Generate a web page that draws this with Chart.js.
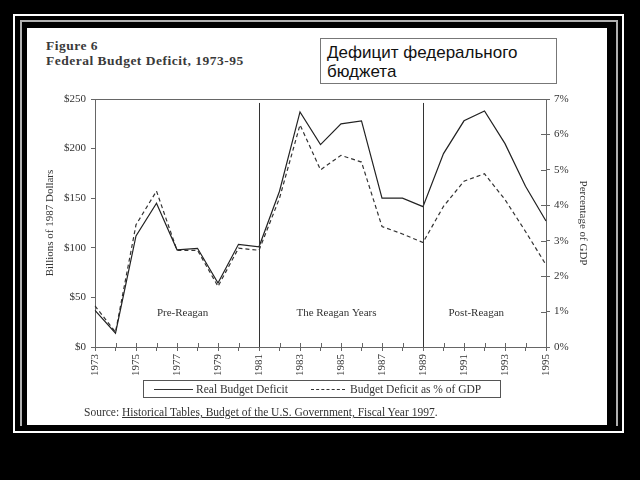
<!DOCTYPE html>
<html>
<head>
<meta charset="utf-8">
<script src="https://cdn.jsdelivr.net/npm/chart.js@4.4.1/dist/chart.umd.min.js"></script>
<style>
  html, body { margin: 0; padding: 0; background: #000; width: 640px; height: 480px; overflow: hidden; }
  .outer { position: absolute; left: 13px; top: 14px; width: 607px; height: 415px; border: 2px solid #fff; }
  .inner { position: absolute; left: 20px; top: 20px; width: 594px; height: 404px; border: 2px solid #b0b0b0; border-bottom: none; }
  .paper { position: absolute; left: 27px; top: 28px; width: 580px; height: 397px; background: #fff; }
  .serif { font-family: "Liberation Serif", "Times New Roman", serif; color: #333; position: absolute; white-space: nowrap; }
  .fig { font-size: 13.5px; font-weight: bold; letter-spacing: 0.5px; color: #3a3a3a; line-height: 16px; }
  .ru { position: absolute; left: 320px; top: 38px; border: 1px solid #777;
        font-family: "Liberation Sans", Arial, sans-serif; font-size: 17px; line-height: 19px; color: #111; padding: 4px 0 0 6px; box-sizing: border-box; width: 237px; height: 46px; }
  .legend { position: absolute; left: 143px; top: 380px; width: 358px; height: 18px; border: 1px solid #555; box-sizing: border-box; }
  .swatch { position: absolute; top: 9px; height: 0; }
  .lg { font-size: 11.5px; line-height: 14px; top: 382px; }
  canvas { position: absolute; left: 0; top: 0; }
</style>
</head>
<body>
<div class="outer"></div>
<div class="inner"></div>
<div class="paper"></div>

<div class="serif fig" style="left:46px; top:38px;">Figure 6</div>
<div class="serif fig" style="left:46px; top:53px;">Federal Budget Deficit, 1973-95</div>
<div class="ru">Дефицит федерального<br>бюджета</div>

<canvas id="deficitChart" width="640" height="480"></canvas>

<div class="legend"></div>
<div class="swatch" style="left:154px; top:389px; width:39px; border-top:1px solid #333;"></div>
<div class="serif lg" style="left:196px;">Real Budget Deficit</div>
<div class="swatch" style="left:311px; top:389px; width:34px; border-top:1px dashed #333;"></div>
<div class="serif lg" style="left:350px;">Budget Deficit as % of GDP</div>
<div class="serif lg" style="left:84px; top:405px;">Source: <span style="text-decoration:underline;">Historical Tables, Budget of the U.S. Government, Fiscal Year 1997</span>.</div>

<script>
// chart data
const years = ['1973', '1974', '1975', '1976', '1977', '1978', '1979', '1980', '1981', '1982', '1983', '1984',
  '1985', '1986', '1987', '1988', '1989', '1990', '1991', '1992', '1993', '1994', '1995'];
const realDeficit = [37, 14, 112, 145, 98, 99.5, 64.5, 103.5, 101, 157, 237, 204,
  225, 228, 150, 150, 141.5, 195, 228, 238, 205, 162, 127];
const deficitPctGdp = [1.16, 0.42, 3.45, 4.40, 2.73, 2.73, 1.71, 2.79, 2.73, 4.20, 6.27, 5.00,
  5.41, 5.22, 3.40, 3.19, 2.95, 3.97, 4.68, 4.89, 4.16, 3.26, 2.32];
const dividerYears = ['1981', '1989'];
const periodLabels = ['Pre-Reagan', 'The Reagan Years', 'Post-Reagan'];
const periodAt = [4.27, 11.78, 18.6];

const gridGrey = '#666';

Chart.defaults.font.family = '"Liberation Serif", "Times New Roman", serif';
Chart.defaults.font.size = 11;
Chart.defaults.color = '#333';

// extra marks: inner half of the tick marks, era dividers, era names
const extras = {
  id: 'extras',
  afterDatasetsDraw(chart) {
    const { ctx, chartArea, scales: { x, y, y1 } } = chart;
    ctx.save();
    ctx.lineWidth = 1;
    ctx.strokeStyle = gridGrey;
    ctx.beginPath();
    x.ticks.forEach((t, i) => {
      const px = Math.round(x.getPixelForTick(i)) + 0.5;
      ctx.moveTo(px, chartArea.bottom);
      ctx.lineTo(px, chartArea.bottom - 4);
    });
    y1.ticks.forEach((t, i) => {
      const py = Math.round(y1.getPixelForTick(i)) + 0.5;
      ctx.moveTo(chartArea.right, py);
      ctx.lineTo(chartArea.right - 5, py);
    });
    ctx.stroke();

    ctx.strokeStyle = '#333';
    ctx.beginPath();
    dividerYears.forEach((yr) => {
      const px = Math.round(x.getPixelForValue(years.indexOf(yr))) + 0.5;
      ctx.moveTo(px, y.getPixelForValue(246));
      ctx.lineTo(px, chartArea.bottom);
    });
    ctx.stroke();

    ctx.fillStyle = '#333';
    ctx.font = '11px "Liberation Serif", serif';
    ctx.textAlign = 'center';
    ctx.textBaseline = 'middle';
    periodLabels.forEach((label, i) => {
      ctx.fillText(label, x.getPixelForValue(periodAt[i]), y.getPixelForValue(34));
    });
    ctx.restore();
  }
};

new Chart(document.getElementById('deficitChart'), {
  type: 'line',
  data: {
    labels: years,
    datasets: [{
      label: 'Real Budget Deficit',
      data: realDeficit,
      yAxisID: 'y',
      borderColor: '#222',
      borderWidth: 1.2,
      pointRadius: 0,
      tension: 0
    }, {
      label: 'Budget Deficit as % of GDP',
      data: deficitPctGdp,
      yAxisID: 'y1',
      borderColor: '#333',
      borderWidth: 1.2,
      borderDash: [4, 3],
      pointRadius: 0,
      tension: 0
    }]
  },
  options: {
    responsive: false,
    animation: false,
    devicePixelRatio: 1,
    layout: { padding: { left: 40, right: 47, top: 99, bottom: 103 } },
    plugins: { legend: { display: false }, tooltip: { enabled: false } },
    scales: {
      x: {
        offset: false,
        afterFit: (s) => { s.height = 30; },
        border: { display: true, color: gridGrey },
        grid: { drawOnChartArea: false, tickLength: 4, tickColor: gridGrey },
        ticks: {
          autoSkip: false,
          minRotation: 90,
          maxRotation: 90,
          padding: 3,
          callback: (v, i) => (i % 2 === 0 ? years[i] : '')
        }
      },
      y: {
        position: 'left',
        min: 0,
        max: 250,
        afterFit: (s) => { s.width = 55; },
        border: { display: true, color: gridGrey },
        grid: {
          color: (c) => (c.tick && c.tick.value === 250 ? gridGrey : 'rgba(0,0,0,0)'),
          tickColor: gridGrey,
          tickLength: 4
        },
        ticks: { stepSize: 50, padding: 5, callback: (v) => '$' + v },
        title: { display: true, text: 'Billions of 1987 Dollars', font: { size: 11 }, padding: { top: 4, bottom: 4 } }
      },
      y1: {
        position: 'right',
        min: 0,
        max: 7,
        afterFit: (s) => { s.width = 47; },
        border: { display: true, color: gridGrey },
        grid: { drawOnChartArea: false, tickColor: gridGrey, tickLength: 4 },
        ticks: { stepSize: 1, padding: 4, callback: (v) => v + '%' },
        title: { display: true, text: 'Percentage of GDP', font: { size: 11 }, padding: { top: 4, bottom: 4 } }
      }
    }
  },
  plugins: [extras]
});
</script>
</body>
</html>
